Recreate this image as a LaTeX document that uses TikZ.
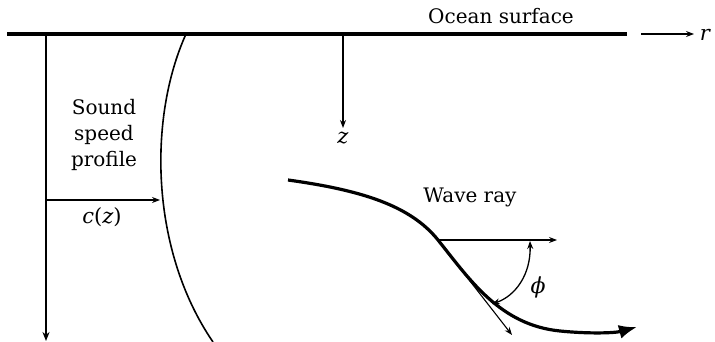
\documentclass[tikz,border=0pt]{standalone}
\usepackage{fontspec}
\setmainfont{DejaVu Serif}
\usetikzlibrary{arrows.meta}
\begin{document}
\begin{tikzpicture}[x=1pt,y=-1pt,
  lbl/.style={inner sep=0pt,font=\fontsize{20}{26}\selectfont},
  var/.style={inner sep=0pt,font=\fontsize{21}{26}\selectfont\itshape},
  thin arrow/.style={line width=1.1pt,-{Stealth[length=8pt,width=6pt]}},
]
\useasboundingbox (0,0) rectangle (715,342);
% surface
\coordinate (sL) at (7,34);
\coordinate (sR) at (627,34);
\draw[line width=3.2pt] (sL) -- (sR);
\node[lbl] (ocean) at (501,16) {Ocean surface};
% r axis
\coordinate (rA) at (641,34);
\coordinate (rB) at (694,34);
\node[var] (r) at (705,35) {r};
\draw[thin arrow] (rA) -- (rB);
% depth axis
\coordinate (dTop) at (46,34);
\coordinate (dBot) at (46,341);
\draw[line width=1.6pt,-{Stealth[length=9pt,width=7pt]}] (dTop) -- (dBot);
% sound speed profile
\draw[line width=1.6pt] (186,34) .. controls (148,118) and (150,250) .. (213,342);
\coordinate (cz) at (160,200);
\coordinate (czL) at (46,200);
\draw[thin arrow] (czL) -- (cz);
\node[var] (czlbl) at (102,217) {c\upshape(\itshape z\upshape)};
\node[lbl,align=center] (ssp) at (104,135) {Sound\\speed\\profile};
% z arrow
\coordinate (zTop) at (343,34);
\coordinate (zBot) at (343,128);
\node[var] (z) at (343,138) {z};
\draw[thin arrow] (zTop) -- (zBot);
% wave ray
\coordinate (P) at (438,240);
\draw[line width=3.2pt,-{Latex[length=18pt,width=14pt]}] (288,180) .. controls (360,190) and (410,205) .. (P)
   .. controls (470,280) and (500,325) .. (560,331)
   .. controls (590,334) and (615,333) .. (637,327);
\node[lbl] (wave) at (470,197) {Wave ray};
\coordinate (H) at (557,240);
\coordinate (T) at (512,335);
\draw[thin arrow] (P) -- (H);
\draw[thin arrow] (P) -- (T);
% angle
\coordinate (a1) at (530,241);
\coordinate (a2) at (492,304);
\draw[line width=1.3pt,{Stealth[length=8pt,width=6pt]}-{Stealth[length=8pt,width=6pt]}] (a1) .. controls (531,275) and (515,296) .. (a2);
\node[var,font=\fontsize{22}{26}\selectfont\itshape] (phi) at (538,287) {ϕ};
\end{tikzpicture}
\end{document}
